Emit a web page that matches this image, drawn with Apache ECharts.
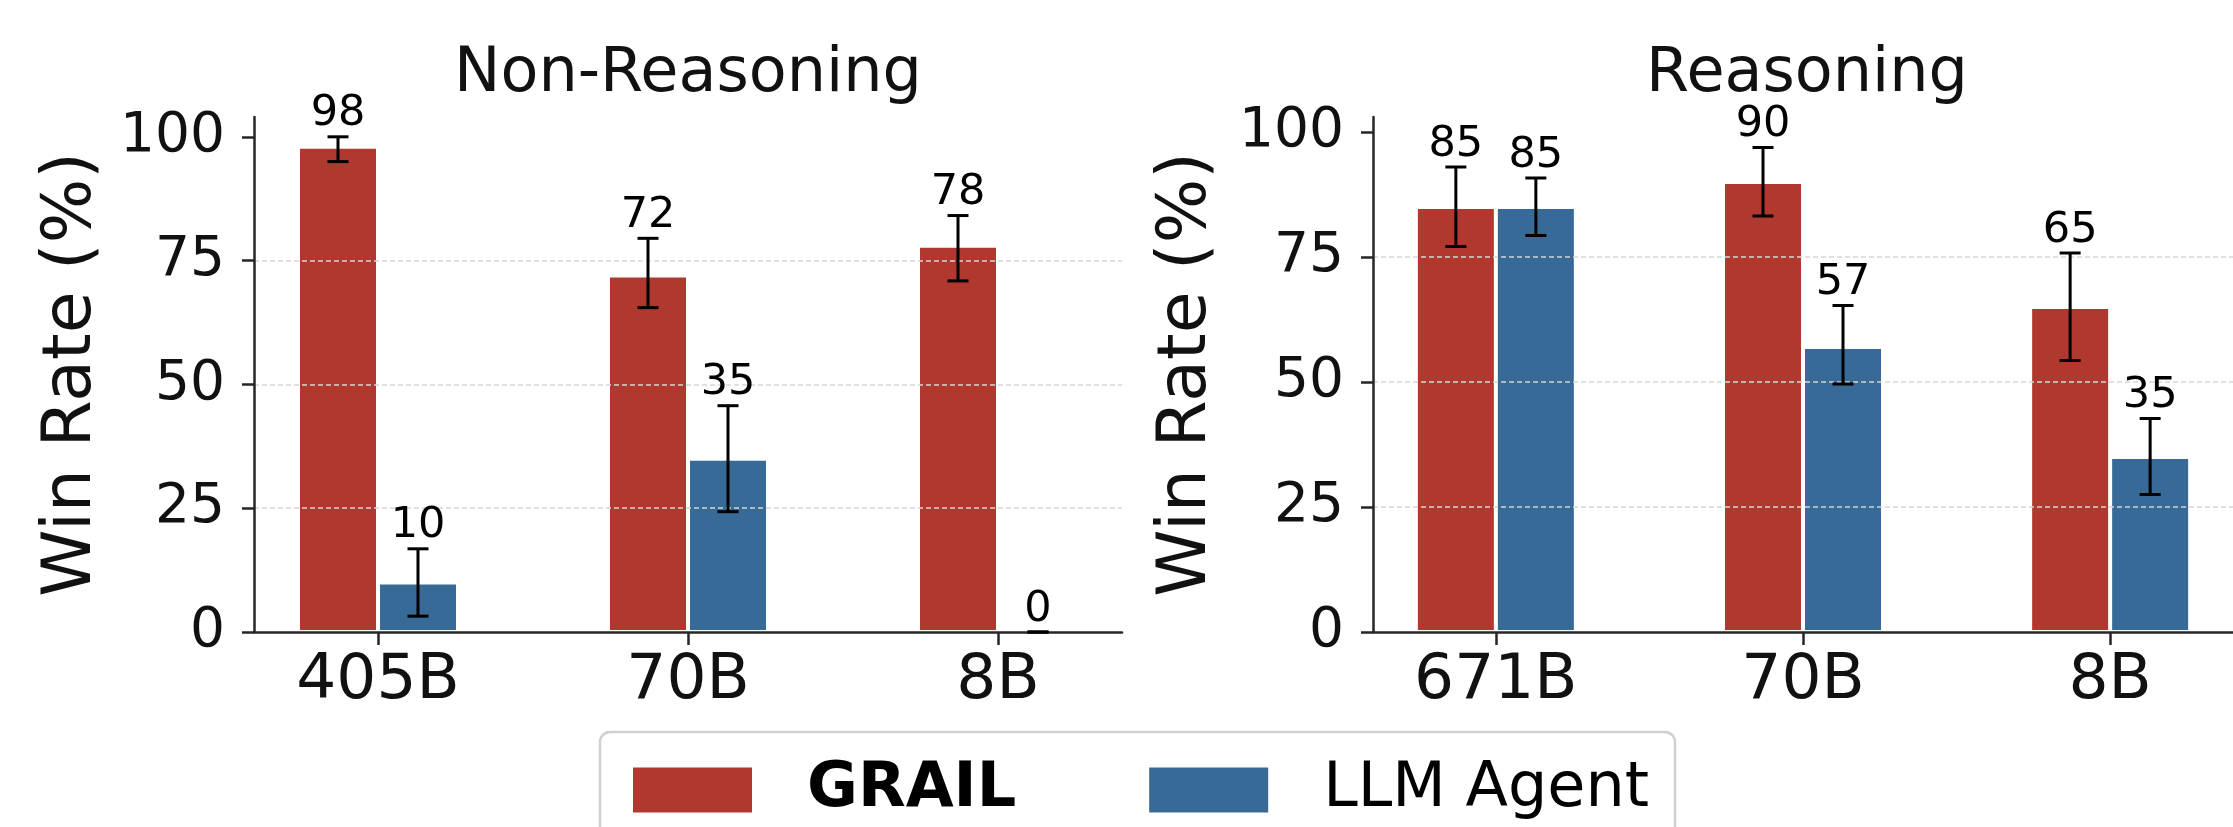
<!DOCTYPE html>
<html>
<head>
<meta charset="utf-8">
<script src="https://cdn.jsdelivr.net/npm/echarts@6/dist/echarts.min.js"></script>
<style>
  html, body { margin: 0; padding: 0; background: #fff; }
  #chart { width: 2233px; height: 827px; }
</style>
</head>
<body>
<div id="chart"></div>
<script>
// ---- data ----
const panelTitles = ['Non-Reasoning', 'Reasoning'];
const seriesNames = ['GRAIL', 'LLM Agent'];
const nonReasoningModels = ['405B', '70B', '8B'];
const reasoningModels = ['671B', '70B', '8B'];

// win rate (%)
const nonReasoningGrail = [98, 72, 78];
const nonReasoningAgent = [10, 35, 0];
const reasoningGrail = [85, 90, 65];
const reasoningAgent = [85, 57, 35];

// error bar extents [low, high] (%)
const nonReasoningGrailErr = [[95.0, 100.0], [65.5, 79.5], [70.9, 84.1]];
const nonReasoningAgentErr = [[3.2, 16.8], [24.3, 45.7], [0, 0]];
const reasoningGrailErr = [[77.1, 93.0], [83.2, 96.9], [54.3, 75.8]];
const reasoningAgentErr = [[79.3, 90.8], [49.6, 65.3], [27.5, 42.7]];

const yTicks = [0, 25, 50, 75, 100];
const yAxisTitle = 'Win Rate (%)';

// ---- styling ----
const FONT = "'DejaVu Sans', sans-serif";
const RED = '#b0382f';
const BLUE = '#376a97';
const INK = '#111';
const AXIS = '#262626';
const BAR_W = 80;
const CAP = 10.5;
const LABEL_GAP = 1;

const panels = [
  { title: panelTitles[0], models: nonReasoningModels, grail: nonReasoningGrail, agent: nonReasoningAgent,
    grailErr: nonReasoningGrailErr, agentErr: nonReasoningAgentErr, left: 254, yMax: 104, nameGap: 148 },
  { title: panelTitles[1], models: reasoningModels, grail: reasoningGrail, agent: reasoningAgent,
    grailErr: reasoningGrailErr, agentErr: reasoningAgentErr, left: 1373, yMax: 103, nameGap: 152 }
];

const GRID_TOP = 117, GRID_H = 515, GRID_W = 868;

// error bar with caps, and the value printed above it
function errorSeries(name, idx, values, ranges, side) {
  return {
    type: 'custom',
    name: name,
    xAxisIndex: idx,
    yAxisIndex: idx,
    z: 5,
    silent: true,
    data: values.map((v, i) => [i, ranges[i][0], ranges[i][1], v]),
    encode: { x: 0, y: [1, 2] },
    renderItem(params, api) {
      const cx = api.coord([api.value(0), 0])[0] + side * BAR_W / 2;
      const lo = api.coord([api.value(0), api.value(1)])[1];
      const hi = api.coord([api.value(0), api.value(2)])[1];
      const st = { stroke: '#000', lineWidth: 3 };
      return {
        type: 'group',
        children: [
          { type: 'line', shape: { x1: cx, y1: lo, x2: cx, y2: hi }, style: st },
          { type: 'line', shape: { x1: cx - CAP, y1: lo, x2: cx + CAP, y2: lo }, style: st },
          { type: 'line', shape: { x1: cx - CAP, y1: hi, x2: cx + CAP, y2: hi }, style: st },
          { type: 'text', x: cx, y: hi - LABEL_GAP,
            style: { text: String(api.value(3)), fill: '#000', fontSize: 43, fontFamily: FONT,
                     align: 'center', verticalAlign: 'bottom' } }
        ]
      };
    }
  };
}

const grids = [], xAxes = [], yAxes = [], series = [], graphics = [];

panels.forEach((p, idx) => {
  grids.push({ left: p.left, top: GRID_TOP, width: GRID_W, height: GRID_H });
  const axisLine = { show: true, onZero: false, lineStyle: { color: AXIS, width: 2.5 } };
  xAxes.push({
    type: 'value', gridIndex: idx, min: -0.4, max: 2.4, z: 3,
    axisLine: axisLine,
    axisTick: { show: true, customValues: [0, 1, 2], length: 13, lineStyle: { color: AXIS, width: 2.5 } },
    axisLabel: { customValues: [0, 1, 2], formatter: v => p.models[Math.round(v)],
                 fontSize: 63, fontFamily: FONT, color: INK, margin: 18 },
    splitLine: { show: false }
  });
  yAxes.push({
    type: 'value', gridIndex: idx, min: 0, max: p.yMax, interval: 25, z: 3,
    name: yAxisTitle, nameLocation: 'middle', nameGap: p.nameGap,
    nameTextStyle: { fontSize: 68, fontFamily: FONT, color: INK },
    axisLine: axisLine,
    axisTick: { show: true, customValues: yTicks, length: 12, lineStyle: { color: AXIS, width: 2.5 } },
    axisLabel: { customValues: yTicks, fontSize: 55, fontFamily: FONT, color: INK, margin: 29 },
    splitLine: { show: true, showMinLine: false, showMaxLine: false,
                 lineStyle: { color: '#d6d6d6', width: 1.5, type: [5, 3] } }
  });
  const barStyle = c => ({ color: c, borderColor: '#fff', borderWidth: 2 });
  series.push({
    type: 'bar', name: seriesNames[0], xAxisIndex: idx, yAxisIndex: idx,
    barWidth: BAR_W, barGap: 0, itemStyle: barStyle(RED),
    data: p.grail.map((v, i) => [i, v])
  });
  series.push({
    type: 'bar', name: seriesNames[1], xAxisIndex: idx, yAxisIndex: idx,
    barWidth: BAR_W, barGap: 0, itemStyle: barStyle(BLUE),
    data: p.agent.map((v, i) => [i, v])
  });
  series.push(errorSeries(seriesNames[0] + ' error', idx, p.grail, p.grailErr, -1));
  series.push(errorSeries(seriesNames[1] + ' error', idx, p.agent, p.agentErr, 1));
  graphics.push({
    type: 'text', x: p.left + GRID_W / 2, y: 75,
    style: { text: p.title, fontSize: 62, fontFamily: FONT, fill: INK, align: 'center', verticalAlign: 'middle' }
  });
});

const chart = echarts.init(document.getElementById('chart'), null, { renderer: 'canvas' });
chart.setOption({
  animation: false,
  backgroundColor: '#fff',
  grid: grids,
  xAxis: xAxes,
  yAxis: yAxes,
  series: series,
  graphic: graphics,
  legend: {
    data: seriesNames,
    left: 600, top: 732,
    padding: [27, 26, 27, 31],
    itemWidth: 121, itemHeight: 47, itemGap: 131,
    icon: 'rect',
    backgroundColor: '#fff',
    borderColor: '#cfcfcf', borderWidth: 2.5, borderRadius: 10,
    formatter: name => name === 'GRAIL' ? '{b|' + name + '}' : '{r|' + name + '}',
    textStyle: {
      fontSize: 62, fontFamily: FONT, color: '#000',
      rich: {
        b: { fontSize: 62, fontFamily: FONT, fontWeight: 'bold', color: '#000', padding: [0, 0, 0, 49] },
        r: { fontSize: 62, fontFamily: FONT, color: '#000', padding: [0, 0, 0, 49] }
      }
    }
  }
});
</script>
</body>
</html>
